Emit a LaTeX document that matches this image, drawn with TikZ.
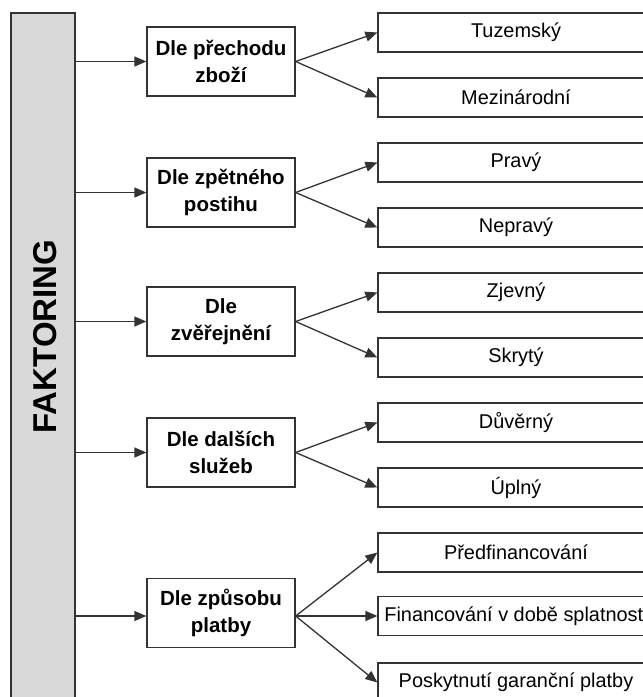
\documentclass[tikz,border=0pt]{standalone}
\usepackage{fontspec}
\setmainfont{Liberation Sans}
\usetikzlibrary{arrows.meta}
\definecolor{ln}{HTML}{333333}
\definecolor{gr}{HTML}{D9D9D9}
\tikzset{
  midbox/.style={draw=ln, line width=1.3pt, minimum width=148pt, minimum height=69pt, inner sep=0pt, align=center, font=\fontsize{20.5}{27}\selectfont\bfseries},
  leafbox/.style={draw=ln, line width=1.3pt, minimum width=276pt, minimum height=39pt, inner sep=0pt, font=\fontsize{19.9}{23}\selectfont},
  conn/.style={draw=ln, line width=1.3pt, -{Triangle[length=12pt,width=10pt]}}
}
\begin{document}
\begin{tikzpicture}[x=1pt,y=-1pt]
\useasboundingbox (0,0) rectangle (643,697);
\clip (0,0) rectangle (643,697);
\fill[white] (0,0) rectangle (643,697);
\node[draw=ln, fill=gr, line width=1.3pt, minimum width=64pt, minimum height=747pt, inner sep=0pt] (fak) at (43,386.5) {};
\node[rotate=90, font=\fontsize{33}{38}\selectfont\bfseries] (fakt) at (45,336.5) {FAKTORING};
% middle
\node[midbox] (m1) at (221,61.5) {Dle přechodu\\zboží};
\node[midbox] (m2) at (221,192.5) {Dle zpětného\\postihu};
\node[midbox] (m3) at (221,321.5) {Dle\\zvěřejnění};
\node[midbox] (m4) at (221,452.5) {Dle dalších\\služeb};
\node[midbox] (m5) at (221,613) {Dle způsobu\\platby};
\coordinate (m5o) at ([yshift=-3pt]m5.east);
% leaves
\node[leafbox] (r1) at (516,32.5) {Tuzemský};
\node[leafbox] (r2) at (516,97.5) {Mezinárodní};
\node[leafbox] (r3) at (516,162.5) {Pravý};
\node[leafbox] (r4) at (516,227.5) {Nepravý};
\node[leafbox] (r5) at (516,292.5) {Zjevný};
\node[leafbox] (r6) at (516,357.5) {Skrytý};
\node[leafbox] (r7) at (516,422.5) {Důvěrný};
\node[leafbox] (r8) at (516,487.5) {Úplný};
\node[leafbox] (r9) at (516,552.5) {Předfinancování};
\node[leafbox] (r10) at (516,616) {Financování v době splatnosti};
\node[leafbox] (r11) at (516,682.5) {Poskytnutí garanční platby};
% connectors
\foreach \m in {1,...,4}{\draw[conn] (fak.east |- m\m) -- (m\m.west);}
\draw[conn] (fak.east |- m5o) -- (m5.west |- m5o);
\draw[conn] (m1.east) -- (r1.west);
\draw[conn] (m1.east) -- (r2.west);
\draw[conn] (m2.east) -- (r3.west);
\draw[conn] (m2.east) -- (r4.west);
\draw[conn] (m3.east) -- (r5.west);
\draw[conn] (m3.east) -- (r6.west);
\draw[conn] (m4.east) -- (r7.west);
\draw[conn] (m4.east) -- (r8.west);
\draw[conn] (m5o) -- (r9.west);
\draw[conn] (m5o) -- (r10.west);
\draw[conn] (m5o) -- (r11.west);
\end{tikzpicture}
\end{document}
